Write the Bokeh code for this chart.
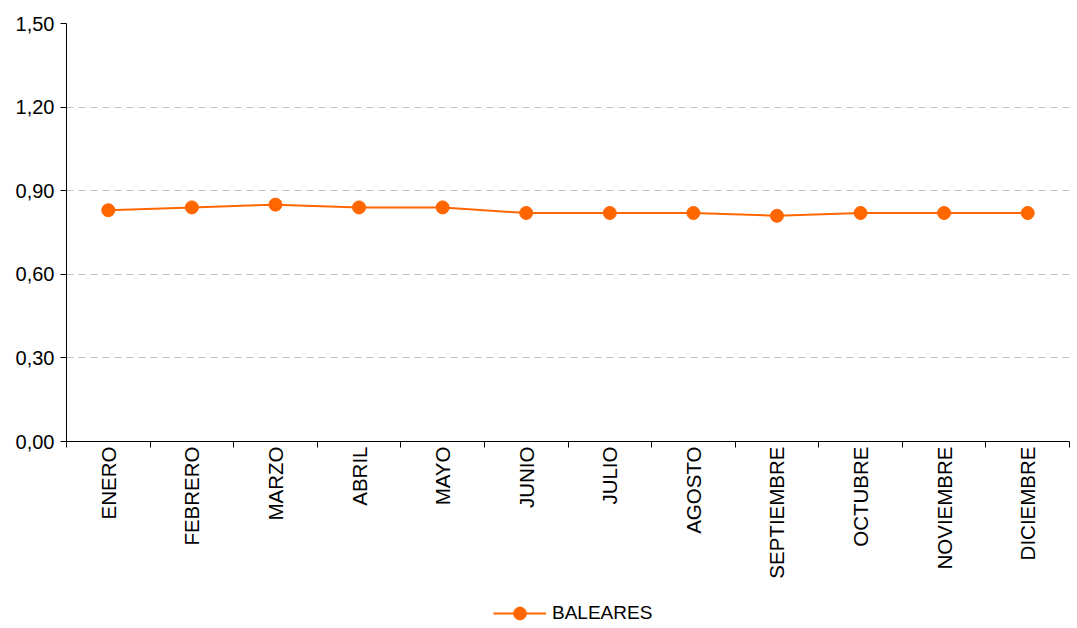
import math
from bokeh.plotting import figure
from bokeh.layouts import column
from bokeh.models import FixedTicker, CustomJSTickFormatter, Legend, LegendItem, Range1d
from bokeh.embed import file_html
from bokeh.resources import INLINE

months = ["ENERO", "FEBRERO", "MARZO", "ABRIL", "MAYO", "JUNIO", "JULIO",
          "AGOSTO", "SEPTIEMBRE", "OCTUBRE", "NOVIEMBRE", "DICIEMBRE"]
baleares = [0.83, 0.84, 0.85, 0.84, 0.84, 0.82, 0.82, 0.82, 0.81, 0.82, 0.82, 0.82]
y_ticks = [0.0, 0.3, 0.6, 0.9, 1.2, 1.5]
series_name = "BALEARES"

ORANGE = "#FF6600"
FONT = "Liberation Sans"

xs = [i + 0.5 for i in range(len(months))]

p = figure(width=1075, height=598, output_backend="svg", toolbar_location=None,
           x_range=Range1d(0, len(months)), y_range=Range1d(0, 1.5),
           min_border_left=66, min_border_top=23, min_border_right=6,
           min_border_bottom=157)
p.outline_line_color = None
p.background_fill_color = "white"

line = p.line(xs, baleares, line_color=ORANGE, line_width=2)
pts = p.scatter(xs, baleares, size=13, fill_color=ORANGE, line_color=ORANGE)

# x axis
p.xaxis.ticker = FixedTicker(ticks=xs, minor_ticks=list(range(len(months) + 1)))
p.xaxis.formatter = CustomJSTickFormatter(args=dict(months=months),
                                          code="return months[Math.floor(tick)];")
p.xaxis.major_label_orientation = math.pi / 2
p.xaxis.major_tick_out = 0
p.xaxis.major_tick_in = 0
p.xaxis.minor_tick_out = 6
p.xaxis.minor_tick_in = 0
p.xaxis.minor_tick_line_color = "black"
p.xaxis.axis_line_color = "black"
p.xaxis.major_label_text_font = FONT
p.xaxis.major_label_text_font_size = "20.5px"
p.xaxis.major_label_text_color = "black"
p.xaxis.major_label_standoff = -1

# y axis
p.yaxis.ticker = FixedTicker(ticks=y_ticks, minor_ticks=[])
p.yaxis.formatter = CustomJSTickFormatter(code="return tick.toFixed(2).replace('.', ',');")
p.yaxis.major_tick_out = 6
p.yaxis.major_tick_in = 0
p.yaxis.axis_line_color = "black"
p.yaxis.major_tick_line_color = "black"
p.yaxis.major_label_text_font = FONT
p.yaxis.major_label_text_font_size = "20px"
p.yaxis.major_label_text_color = "black"
p.yaxis.major_label_standoff = 6

p.xgrid.grid_line_color = None
p.ygrid.grid_line_color = "#c0c0c0"
p.ygrid.grid_line_dash = "7 5"
p.ygrid.grid_line_width = 1

# legend strip (its frame is aligned with the main frame by the column layout)
lg = figure(width=1075, height=30, output_backend="svg", toolbar_location=None,
            x_range=Range1d(0, 1), y_range=Range1d(0, 1),
            min_border_left=66, min_border_right=6, min_border_top=0, min_border_bottom=0)
lg.axis.visible = False
lg.grid.visible = False
lg.outline_line_color = None
# renderers kept off-screen; they only supply the legend's glyph
lline = lg.line([-2, -1], [-2, -1], line_color=ORANGE, line_width=2)
lpts = lg.scatter([-2], [-2], size=13, fill_color=ORANGE, line_color=ORANGE)
legend = Legend(items=[LegendItem(label=series_name, renderers=[lline, lpts])],
                orientation="horizontal", location=(427, -1),
                label_text_font=FONT, label_text_font_size="19px",
                label_text_color="black", glyph_width=53, glyph_height=32,
                border_line_color=None, background_fill_alpha=0,
                margin=0, padding=0, label_standoff=6)
lg.add_layout(legend, "center")

layout = column(p, lg, spacing=0)
open("out.html", "w").write(file_html(layout, INLINE))
